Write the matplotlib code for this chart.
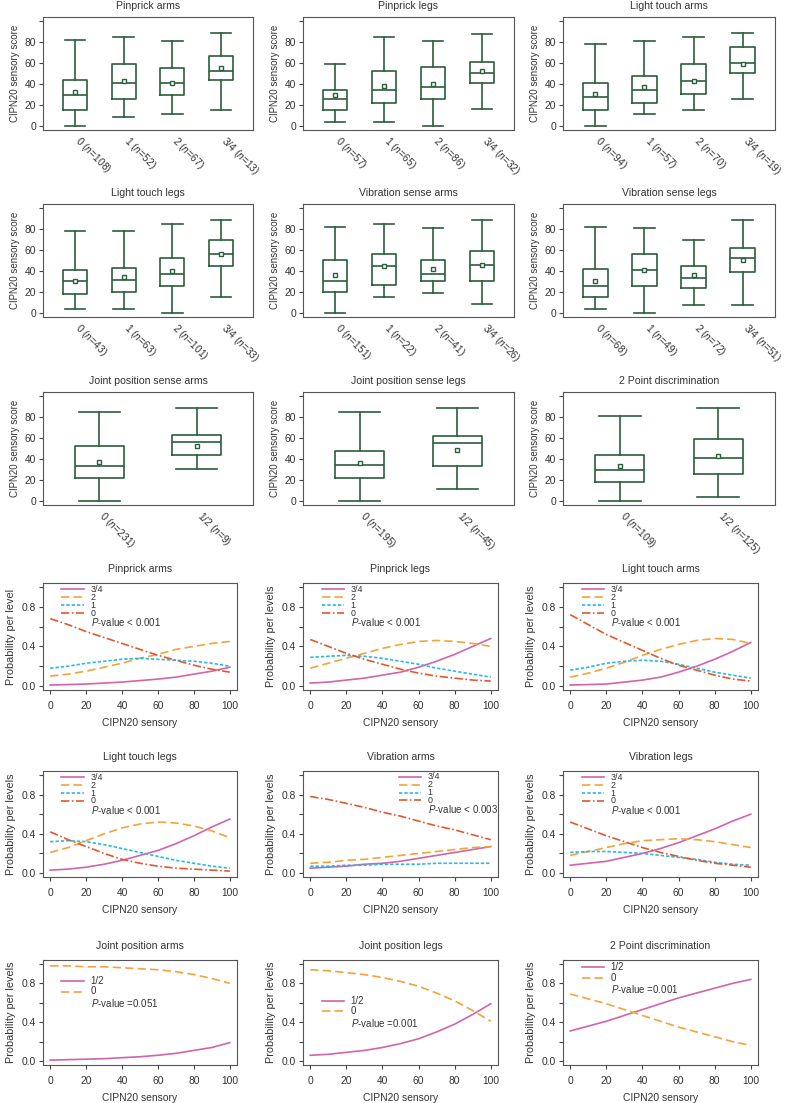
import matplotlib
matplotlib.use('Agg')
import matplotlib.pyplot as plt
from matplotlib.transforms import ScaledTranslation

plt.rcParams['font.family'] = ['Liberation Sans', 'DejaVu Sans']
plt.rcParams['mathtext.fontset'] = 'custom'
plt.rcParams['mathtext.rm'] = 'Liberation Sans'
plt.rcParams['mathtext.it'] = 'Liberation Sans:italic'
plt.rcParams['text.color'] = '#333333'
plt.rcParams['axes.labelcolor'] = '#333333'
plt.rcParams['xtick.color'] = '#444444'
plt.rcParams['ytick.color'] = '#444444'
plt.rcParams['xtick.labelcolor'] = '#333333'
plt.rcParams['ytick.labelcolor'] = '#333333'

# ---- boxplots: CIPN20 score per grade ----
box_titles = ['Pinprick arms', 'Pinprick legs', 'Light touch arms',
              'Light touch legs', 'Vibration sense arms', 'Vibration sense legs',
              'Joint position sense arms', 'Joint position sense legs',
              '2 Point discrimination']
box_groups = [['0', '1', '2', '3/4']] * 6 + [['0', '1/2']] * 3
box_n = [[108, 52, 67, 13], [57, 65, 86, 32], [94, 57, 70, 19],
         [43, 63, 101, 33], [151, 22, 41, 26], [68, 49, 72, 51],
         [231, 9], [195, 45], [109, 125]]
box_whislo = [[0, 8, 11, 15], [4, 4, 0, 16], [0, 11, 15, 26],
              [4, 4, 0, 15], [0, 15, 19, 8], [4, 0, 7, 7],
              [0, 30], [0, 11], [0, 4]]
box_q1 = [[15, 26, 29, 44], [15, 22, 26, 41], [15, 22, 30, 50],
          [18, 20, 26, 45], [20, 27, 30, 30], [15, 26, 24, 39],
          [22, 44], [22, 33], [18, 26]]
box_med = [[29, 41, 41, 52], [26, 34, 37, 50], [28, 34, 43, 60],
           [30, 31, 37, 56], [30, 45, 37, 46], [26, 41, 33, 52],
           [33, 56], [34, 55], [29, 41]]
box_q3 = [[44, 59, 55, 67], [34, 52, 56, 61], [41, 48, 59, 75],
          [41, 43, 52, 70], [50, 56, 50, 59], [42, 56, 45, 62],
          [52, 63], [48, 62], [44, 59]]
box_whishi = [[82, 85, 81, 89], [59, 85, 81, 88], [78, 81, 85, 89],
              [78, 78, 85, 89], [82, 85, 81, 89], [82, 81, 70, 89],
              [85, 89], [85, 89], [81, 89]]
box_mean = [[32, 43, 41, 55], [29, 38, 40, 52], [30, 37, 43, 59],
            [30, 34, 40, 56], [36, 45, 42, 46], [30, 41, 36, 50],
            [37, 52], [36, 49], [33, 43]]

# ---- probability curves ----
cipn_x = [0, 10, 20, 30, 40, 50, 60, 70, 80, 90, 100]
line_titles = ['Pinprick arms', 'Pinprick legs', 'Light touch arms',
               'Light touch legs', 'Vibration arms', 'Vibration legs',
               'Joint position arms', 'Joint position legs',
               '2 Point discrimination']
line_pvalues = ['< 0.001', '< 0.001', '< 0.001', '< 0.001', '< 0.003',
                '< 0.001', '=0.051', '=0.001', '=0.001']
# four-level panels (first six)
prob_34 = [[0.01, 0.015, 0.02, 0.03, 0.04, 0.055, 0.07, 0.09, 0.12, 0.15, 0.19],
           [0.03, 0.04, 0.06, 0.08, 0.11, 0.14, 0.19, 0.25, 0.32, 0.40, 0.48],
           [0.01, 0.015, 0.02, 0.04, 0.06, 0.09, 0.14, 0.20, 0.27, 0.35, 0.44],
           [0.03, 0.04, 0.06, 0.09, 0.13, 0.18, 0.23, 0.30, 0.38, 0.47, 0.55],
           [0.05, 0.06, 0.07, 0.09, 0.10, 0.12, 0.15, 0.18, 0.21, 0.24, 0.27],
           [0.08, 0.10, 0.12, 0.16, 0.20, 0.25, 0.31, 0.38, 0.45, 0.53, 0.60]]
prob_2 = [[0.10, 0.12, 0.15, 0.19, 0.23, 0.28, 0.32, 0.37, 0.40, 0.43, 0.45],
          [0.18, 0.23, 0.28, 0.33, 0.38, 0.42, 0.45, 0.46, 0.45, 0.43, 0.40],
          [0.09, 0.13, 0.18, 0.24, 0.31, 0.37, 0.42, 0.46, 0.48, 0.47, 0.43],
          [0.21, 0.26, 0.33, 0.40, 0.46, 0.50, 0.52, 0.51, 0.48, 0.43, 0.36],
          [0.10, 0.11, 0.13, 0.14, 0.16, 0.18, 0.20, 0.22, 0.24, 0.26, 0.27],
          [0.18, 0.22, 0.26, 0.30, 0.33, 0.34, 0.35, 0.34, 0.32, 0.29, 0.26]]
prob_1 = [[0.18, 0.20, 0.23, 0.25, 0.27, 0.28, 0.27, 0.26, 0.25, 0.23, 0.20],
          [0.29, 0.30, 0.31, 0.30, 0.28, 0.25, 0.22, 0.18, 0.15, 0.12, 0.09],
          [0.16, 0.19, 0.23, 0.25, 0.26, 0.25, 0.22, 0.18, 0.14, 0.11, 0.08],
          [0.32, 0.33, 0.32, 0.29, 0.25, 0.21, 0.17, 0.13, 0.10, 0.07, 0.05],
          [0.07, 0.07, 0.08, 0.08, 0.09, 0.09, 0.09, 0.10, 0.10, 0.10, 0.10],
          [0.21, 0.22, 0.22, 0.21, 0.20, 0.18, 0.16, 0.14, 0.11, 0.09, 0.08]]
prob_0 = [[0.68, 0.62, 0.55, 0.49, 0.43, 0.37, 0.31, 0.26, 0.21, 0.17, 0.14],
          [0.47, 0.40, 0.33, 0.27, 0.22, 0.17, 0.13, 0.10, 0.08, 0.06, 0.05],
          [0.72, 0.62, 0.52, 0.44, 0.36, 0.28, 0.21, 0.16, 0.11, 0.07, 0.05],
          [0.42, 0.34, 0.27, 0.20, 0.14, 0.10, 0.07, 0.05, 0.04, 0.03, 0.02],
          [0.78, 0.75, 0.71, 0.67, 0.62, 0.58, 0.53, 0.48, 0.44, 0.39, 0.34],
          [0.52, 0.45, 0.38, 0.32, 0.26, 0.21, 0.17, 0.13, 0.10, 0.08, 0.06]]
# two-level panels (last three)
prob_12 = [[0.01, 0.015, 0.02, 0.025, 0.035, 0.045, 0.06, 0.08, 0.11, 0.14, 0.19],
           [0.06, 0.07, 0.09, 0.11, 0.14, 0.18, 0.23, 0.30, 0.38, 0.48, 0.59],
           [0.31, 0.36, 0.41, 0.47, 0.53, 0.59, 0.65, 0.70, 0.75, 0.80, 0.84]]
prob_0b = [[0.98, 0.98, 0.97, 0.97, 0.96, 0.95, 0.94, 0.92, 0.89, 0.85, 0.80],
           [0.94, 0.93, 0.91, 0.89, 0.86, 0.82, 0.77, 0.70, 0.62, 0.52, 0.41],
           [0.69, 0.64, 0.59, 0.53, 0.47, 0.41, 0.35, 0.30, 0.25, 0.20, 0.16]]

GREEN = '#2b5e3c'
SPINE = '#555555'
PINK = '#d264a8'
ORANGE = '#f2a33a'
CYAN = '#2bb8e6'
RED = '#e2582c'

W, H = 790, 1103
fig = plt.figure(figsize=(W / 100, H / 100), dpi=100)


def px_axes(left, top, right, bottom):
    return fig.add_axes([left / W, 1 - bottom / H, (right - left) / W, (bottom - top) / H])


def style_spines(ax):
    for s in ax.spines.values():
        s.set_color(SPINE)
        s.set_linewidth(0.8)


box_cols = [(43, 253), (303, 514), (563, 775)]
box_rows = [(17, 130), (204, 317), (392, 505)]
line_cols = [(43, 237), (303, 498), (563, 758)]
line_rows = [(583, 690), (771, 877), (960, 1065)]

# boxplots
for i in range(9):
    r, c = divmod(i, 3)
    ax = px_axes(box_cols[c][0], box_rows[r][0], box_cols[c][1], box_rows[r][1])
    k = len(box_groups[i])
    stats = []
    for j in range(k):
        stats.append(dict(whislo=box_whislo[i][j], q1=box_q1[i][j], med=box_med[i][j],
                          q3=box_q3[i][j], whishi=box_whishi[i][j],
                          mean=box_mean[i][j], fliers=[]))
    lp = dict(color=GREEN, linewidth=1.2)
    ax.bxp(stats, positions=list(range(1, k + 1)), widths=0.5, capwidths=0.42,
           showmeans=True, boxprops=lp, whiskerprops=lp, capprops=lp,
           medianprops=lp,
           meanprops=dict(marker='s', markerfacecolor='white', markeredgecolor=GREEN,
                          markersize=3.5, markeredgewidth=1.0))
    ax.set_xlim(0.5 - 0.04 * k, k + 0.5 + 0.04 * k)
    ax.set_ylim(-4, 104)
    ax.set_yticks([0, 20, 40, 60, 80, 100], ['0', '20', '40', '60', '80', ''])
    labels = [g + ' ($n$=' + str(n) + ')' for g, n in zip(box_groups[i], box_n[i])]
    ax.set_xticks(list(range(1, k + 1)), labels)
    ax.tick_params(axis='x', length=0, pad=3, labelsize=7.4)
    ax.tick_params(axis='y', length=3, width=0.8, pad=2, labelsize=7.4)
    for lbl in ax.get_xticklabels():
        lbl.set_rotation(-45)
        lbl.set_ha('left')
        lbl.set_va('top')
        lbl.set_rotation_mode('anchor')
        lbl.set_transform(lbl.get_transform() + ScaledTranslation(5 / 72, 0, fig.dpi_scale_trans))
    ax.set_ylabel('CIPN20 sensory score', fontsize=7.0, labelpad=3)
    ax.set_title(box_titles[i], fontsize=7.6, pad=6)
    style_spines(ax)

# probability curves
legend_pos = [(0.095, 0.94), (0.095, 0.94), (0.095, 0.94),
              (0.095, 0.94), (0.49, 0.945), (0.095, 0.94),
              (0.095, 0.80), (0.095, 0.61), (0.095, 0.93)]
for i in range(9):
    r, c = divmod(i, 3)
    ax = px_axes(line_cols[c][0], line_rows[r][0], line_cols[c][1], line_rows[r][1])
    if i < 6:
        series = [('3/4', prob_34[i], PINK, '-'),
                  ('2', prob_2[i], ORANGE, (0, (5, 2.5))),
                  ('1', prob_1[i], CYAN, (0, (2, 1.2))),
                  ('0', prob_0[i], RED, (0, (5, 1.5, 1, 1.5)))]
        step = 0.074
        lab_size = 6.4
    else:
        series = [('1/2', prob_12[i - 6], PINK, '-'),
                  ('0', prob_0b[i - 6], ORANGE, (0, (5, 2.5)))]
        step = 0.10
        lab_size = 7.0
    for name, vals, col, ls in series:
        ax.plot(cipn_x, vals, color=col, linestyle=ls, linewidth=1.2)
    # legend, drawn by hand to keep the tight R spacing
    lx, ly = legend_pos[i]
    for j, (name, vals, col, ls) in enumerate(series):
        yy = ly - j * step
        ax.plot([lx, lx + 0.115], [yy, yy], color=col, linestyle=ls, linewidth=1.2,
                transform=ax.transAxes, clip_on=False)
        ax.text(lx + 0.15, yy, name, transform=ax.transAxes, fontsize=lab_size,
                va='center', ha='left')
    ax.text(lx + 0.15, ly - len(series) * step - 0.01, '$P$-value ' + line_pvalues[i],
            transform=ax.transAxes, fontsize=7.0, va='center', ha='left')
    ax.set_xlim(-4, 104)
    ax.set_ylim(-0.04, 1.04)
    ax.set_xticks([0, 20, 40, 60, 80, 100])
    ax.set_yticks([0.0, 0.4, 0.8], ['0.0', '0.4', '0.8'])
    ax.set_yticks([0.2, 0.6, 1.0], minor=True)
    ax.tick_params(axis='both', which='both', length=3, width=0.8, labelsize=7.4)
    ax.tick_params(axis='x', pad=5)
    ax.tick_params(axis='y', pad=2)
    ax.set_xlabel('CIPN20 sensory', fontsize=7.4, labelpad=5)
    ax.set_ylabel('Probability per level' if i == 0 else 'Probability per levels',
                  fontsize=7.8, labelpad=4)
    ax.set_title(line_titles[i], fontsize=7.6, pad=8)
    style_spines(ax)

fig.savefig('out.png', dpi=100, facecolor='white')
